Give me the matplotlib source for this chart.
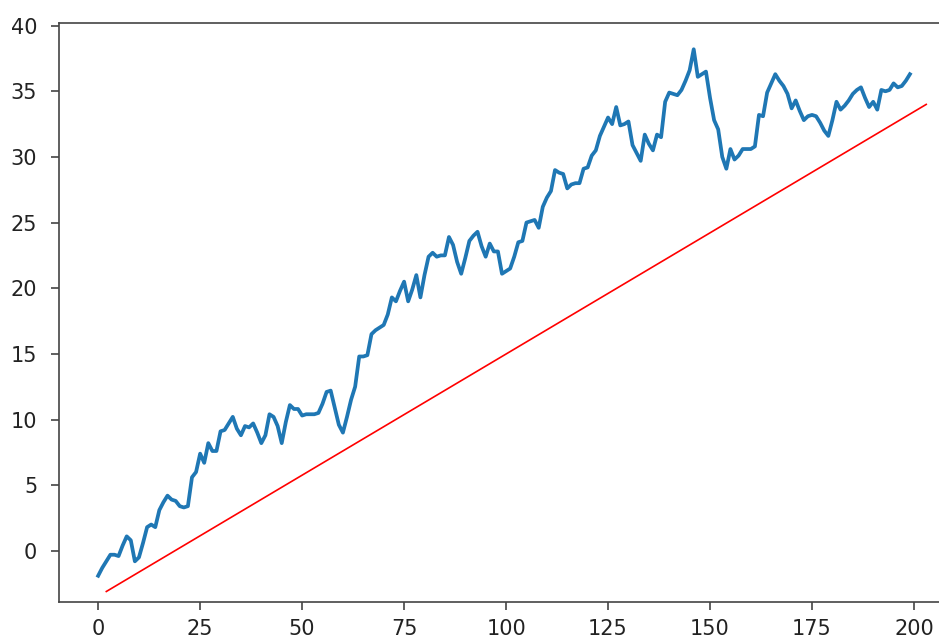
import matplotlib
matplotlib.use("Agg")
import matplotlib.pyplot as plt

# Random-walk series, one value per step 0..199
walk = [
    -1.9, -1.3, -0.8, -0.3, -0.3, -0.4, 0.4, 1.1, 0.8, -0.8,
    -0.5, 0.6, 1.8, 2.0, 1.8, 3.1, 3.7, 4.2, 3.9, 3.8,
    3.4, 3.3, 3.4, 5.6, 6.0, 7.4, 6.7, 8.2, 7.6, 7.6,
    9.1, 9.2, 9.7, 10.2, 9.3, 8.8, 9.5, 9.4, 9.7, 9.0,
    8.2, 8.8, 10.4, 10.2, 9.5, 8.2, 9.8, 11.1, 10.8, 10.8,
    10.3, 10.4, 10.4, 10.4, 10.5, 11.2, 12.1, 12.2, 10.9, 9.6,
    9.0, 10.2, 11.5, 12.5, 14.8, 14.8, 14.9, 16.5, 16.8, 17.0,
    17.2, 18.0, 19.3, 19.0, 19.8, 20.5, 19.0, 19.9, 21.0, 19.3,
    21.0, 22.4, 22.7, 22.4, 22.5, 22.5, 23.9, 23.3, 22.0, 21.1,
    22.3, 23.6, 24.0, 24.3, 23.2, 22.4, 23.4, 22.8, 22.8, 21.1,
    21.3, 21.5, 22.4, 23.5, 23.6, 25.0, 25.1, 25.2, 24.6, 26.2,
    26.9, 27.4, 29.0, 28.8, 28.7, 27.6, 27.9, 28.0, 28.0, 29.1,
    29.2, 30.1, 30.5, 31.6, 32.3, 33.0, 32.5, 33.8, 32.4, 32.5,
    32.7, 30.9, 30.3, 29.7, 31.7, 31.0, 30.5, 31.7, 31.5, 34.2,
    34.9, 34.8, 34.7, 35.1, 35.8, 36.6, 38.2, 36.1, 36.3, 36.5,
    34.5, 32.8, 32.1, 30.0, 29.1, 30.6, 29.8, 30.1, 30.6, 30.6,
    30.6, 30.8, 33.2, 33.1, 34.9, 35.6, 36.3, 35.8, 35.4, 34.8,
    33.7, 34.3, 33.5, 32.8, 33.1, 33.2, 33.1, 32.6, 32.0, 31.6,
    32.8, 34.2, 33.6, 33.9, 34.3, 34.8, 35.1, 35.3, 34.5, 33.8,
    34.2, 33.6, 35.1, 35.0, 35.1, 35.6, 35.3, 35.4, 35.8, 36.3,
]
steps = list(range(len(walk)))

# Straight trend line endpoints
trend_x = [2, 203]
trend_y = [-3.1, 34.0]

x_ticks = [0, 25, 50, 75, 100, 125, 150, 175, 200]
y_ticks = [0, 5, 10, 15, 20, 25, 30, 35, 40]

dpi = 150
fig = plt.figure(figsize=(939 / dpi, 640 / dpi), dpi=dpi)
ax = fig.add_axes([59 / 939, 38 / 640, (950.7 - 59) / 939, (602 - 23) / 640])

ax.plot(steps, walk, color="#1f77b4", linewidth=1.8)
ax.plot(trend_x, trend_y, color="red", linewidth=0.8)

ax.set_xlim(-9.6, 209)
ax.set_ylim(-3.9, 40.2)
ax.set_xticks(x_ticks)
ax.set_yticks(y_ticks)

for side in ax.spines.values():
    side.set_color("#444444")
ax.tick_params(colors="#444444", labelcolor="#222222", length=4)
ax.tick_params(axis="y", pad=6.5)
ax.tick_params(axis="x", pad=4)

fig.savefig("out.png", dpi=dpi)
